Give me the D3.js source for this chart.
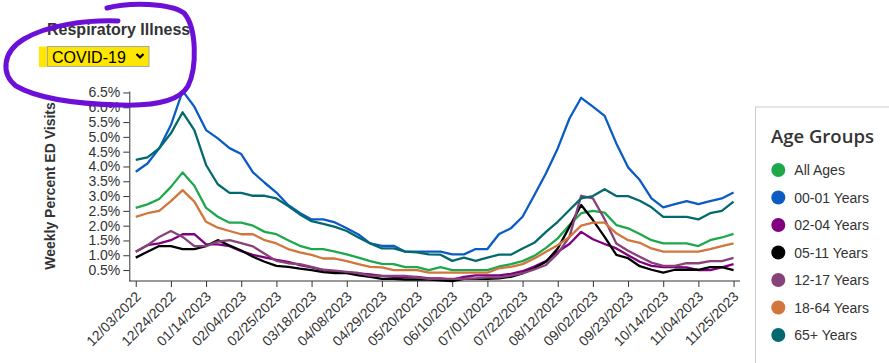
<!doctype html>
<html>
<head>
    <meta charset="utf-8">
    <title>Respiratory Illness - COVID-19</title>
    <script src="https://d3js.org/d3.v7.min.js"></script>
</head>
<body>

<svg class="linechart"></svg>

<script>
    var weeks = ["12/03/2022", "12/10/2022", "12/17/2022", "12/24/2022", "12/31/2022",
        "01/07/2023", "01/14/2023", "01/21/2023", "01/28/2023", "02/04/2023", "02/11/2023",
        "02/18/2023", "02/25/2023", "03/04/2023", "03/11/2023", "03/18/2023", "03/25/2023",
        "04/01/2023", "04/08/2023", "04/15/2023", "04/22/2023", "04/29/2023", "05/06/2023",
        "05/13/2023", "05/20/2023", "05/27/2023", "06/03/2023", "06/10/2023", "06/17/2023",
        "06/24/2023", "07/01/2023", "07/08/2023", "07/15/2023", "07/22/2023", "07/29/2023",
        "08/05/2023", "08/12/2023", "08/19/2023", "08/26/2023", "09/02/2023", "09/09/2023",
        "09/16/2023", "09/23/2023", "09/30/2023", "10/07/2023", "10/14/2023", "10/21/2023",
        "10/28/2023", "11/04/2023", "11/11/2023", "11/18/2023", "11/25/2023"];

    var groupNames = ["All Ages", "00-01 Years", "02-04 Years", "05-11 Years",
        "12-17 Years", "18-64 Years", "65+ Years"];

    var groupColors = ["#1ea84c", "#0a5cc4", "#800080", "#000000",
        "#87427a", "#d1763c", "#04696f"];

    // weekly percent of ED visits, one array per age group
    var allAges = [2.60, 2.72, 2.90, 3.31, 3.80, 3.35, 2.60, 2.30, 2.10, 2.10, 2.00, 1.79, 1.71,
        1.51, 1.32, 1.21, 1.21, 1.12, 1.03, 0.92, 0.80, 0.71, 0.70, 0.60, 0.60, 0.50, 0.60,
        0.50, 0.50, 0.50, 0.50, 0.62, 0.70, 0.80, 0.98, 1.25, 1.57, 2.02, 2.42, 2.50, 2.44,
        2.02, 1.91, 1.72, 1.51, 1.40, 1.40, 1.40, 1.31, 1.51, 1.60, 1.72];
    var age0001 = [3.82, 4.10, 4.61, 5.40, 6.55, 6.02, 5.23, 4.95, 4.62, 4.42, 3.80, 3.45, 3.12,
        2.70, 2.43, 2.21, 2.21, 2.11, 1.91, 1.70, 1.40, 1.32, 1.32, 1.12, 1.12, 1.12, 1.12,
        1.03, 1.03, 1.21, 1.21, 1.72, 1.91, 2.30, 3.03, 3.77, 4.61, 5.62, 6.32, 6.02, 5.71,
        4.78, 3.97, 3.54, 2.92, 2.62, 2.73, 2.83, 2.73, 2.83, 2.92, 3.12];
    var age0204 = [1.12, 1.34, 1.40, 1.51, 1.71, 1.71, 1.37, 1.37, 1.31, 1.14, 1.01, 0.93, 0.84,
        0.78, 0.67, 0.59, 0.50, 0.44, 0.41, 0.39, 0.35, 0.30, 0.27, 0.27, 0.27, 0.22, 0.22,
        0.18, 0.27, 0.32, 0.32, 0.32, 0.37, 0.46, 0.62, 0.80, 1.12, 1.38, 1.79, 1.54, 1.38,
        1.23, 1.00, 0.78, 0.64, 0.60, 0.60, 0.59, 0.50, 0.50, 0.59, 0.70];
    var age0511 = [0.92, 1.12, 1.31, 1.31, 1.21, 1.21, 1.31, 1.51, 1.33, 1.16, 0.95, 0.78, 0.64,
        0.61, 0.55, 0.50, 0.43, 0.40, 0.40, 0.32, 0.27, 0.20, 0.20, 0.18, 0.18, 0.18, 0.15,
        0.13, 0.20, 0.20, 0.20, 0.22, 0.27, 0.39, 0.56, 0.78, 1.23, 1.96, 2.70, 2.19, 1.62,
        1.01, 0.90, 0.63, 0.51, 0.41, 0.51, 0.51, 0.51, 0.60, 0.60, 0.50];
    var age1217 = [1.12, 1.34, 1.62, 1.82, 1.62, 1.31, 1.31, 1.46, 1.51, 1.41, 1.30, 1.05, 0.81,
        0.73, 0.70, 0.61, 0.51, 0.48, 0.44, 0.40, 0.31, 0.30, 0.30, 0.30, 0.25, 0.20, 0.20,
        0.20, 0.20, 0.22, 0.25, 0.25, 0.31, 0.39, 0.52, 0.67, 1.06, 1.62, 3.01, 2.92, 2.22,
        1.40, 1.15, 0.95, 0.75, 0.64, 0.64, 0.73, 0.73, 0.80, 0.80, 0.91];
    var age1864 = [2.30, 2.42, 2.50, 2.83, 3.20, 2.81, 2.13, 1.93, 1.82, 1.71, 1.71, 1.51, 1.40,
        1.21, 1.10, 1.01, 0.89, 0.89, 0.80, 0.70, 0.61, 0.59, 0.50, 0.50, 0.50, 0.41, 0.41,
        0.41, 0.41, 0.41, 0.41, 0.56, 0.61, 0.70, 0.89, 1.12, 1.34, 1.62, 2.00, 2.10, 2.10,
        1.74, 1.51, 1.42, 1.23, 1.12, 1.12, 1.12, 1.12, 1.21, 1.31, 1.40];
    var age65 = [4.22, 4.31, 4.61, 5.12, 5.83, 5.23, 4.05, 3.40, 3.11, 3.11, 3.01, 3.01, 2.92,
        2.66, 2.38, 2.15, 2.06, 1.96, 1.82, 1.60, 1.40, 1.23, 1.23, 1.12, 1.10, 1.03, 1.02,
        0.81, 0.92, 0.81, 0.92, 1.02, 1.02, 1.23, 1.42, 1.79, 2.13, 2.53, 2.92, 3.00, 3.23,
        3.00, 3.00, 2.84, 2.62, 2.30, 2.30, 2.30, 2.21, 2.42, 2.50, 2.81];

    var yTicks = [0.5, 1.0, 1.5, 2.0, 2.5, 3.0, 3.5, 4.0, 4.5, 5.0, 5.5, 6.0, 6.5];

    var series = [allAges, age0001, age0204, age0511, age1217, age1864, age65]
        .map((values, i) => ({name: groupNames[i], color: groupColors[i], values: values}));

    var width = 889,
        height = 363,
        margin = {top: 91, right: 149, bottom: 82, left: 129.3};

    var font = '"Liberation Sans", Arial, sans-serif';

    var svg = d3.select(".linechart")
        .attr("width", width)
        .attr("height", height)
        .style("display", "block")
        .style("font-family", font);

    d3.select("body").style("margin", 0).style("background", "#fff");

    var x = d3.scalePoint()
        .domain(weeks)
        .range([margin.left, width - margin.right])
        .padding(0.55);

    var y = d3.scaleLinear()
        .domain(d3.extent(series.flatMap(s => s.values)))
        .range([height - margin.bottom, margin.top]);

    // header + fake dropdown
    svg.append("text")
        .attr("x", 47)
        .attr("y", 35)
        .style("font-size", "16px")
        .style("font-weight", "bold")
        .attr("fill", "#333")
        .text("Respiratory Illness");

    svg.append("rect")
        .attr("x", 39).attr("y", 46.5)
        .attr("width", 110).attr("height", 20.5)
        .attr("fill", "#ffe600");
    svg.append("rect")
        .attr("x", 47.5).attr("y", 46.5)
        .attr("width", 101.5).attr("height", 20)
        .attr("fill", "none")
        .attr("stroke", "#a8a8a8");
    svg.append("text")
        .attr("x", 52)
        .attr("y", 62.5)
        .style("font-size", "16px")
        .attr("fill", "#000")
        .text("COVID-19");
    svg.append("path")
        .attr("d", "M136.5,54 L140,57.5 L143.5,54")
        .attr("fill", "none")
        .attr("stroke", "#000")
        .attr("stroke-width", 2.2);

    // axes
    var yAxis = svg.append("g")
        .attr("transform", `translate(${margin.left},0)`)
        .call(d3.axisLeft(y).tickValues(yTicks)
            .tickFormat(d => d3.format(".1f")(d) + "%").tickSizeOuter(0));
    yAxis.selectAll("text")
        .style("font-size", "14px")
        .style("font-family", font)
        .attr("fill", "#333");
    yAxis.selectAll("line, path").attr("stroke", "#333");

    var xAxis = svg.append("g")
        .attr("transform", `translate(0,${height - margin.bottom})`)
        .call(d3.axisBottom(x)
            .tickValues(weeks.filter((d, i) => i % 3 == 0)).tickSizeOuter(0));
    xAxis.select(".domain").attr("d", `M${margin.left},0H${width - margin.right}`);
    xAxis.selectAll("line, path").attr("stroke", "#333");
    xAxis.selectAll("text")
        .attr("x", 0).attr("y", 0)
        .attr("dy", "0.35em")
        .attr("transform", "translate(2,13) rotate(-45)")
        .style("text-anchor", "end")
        .style("font-size", "14px")
        .style("font-family", font)
        .attr("fill", "#333");

    svg.append("text")
        .attr("transform", `translate(55,${(margin.top + height - margin.bottom) / 2}) rotate(-90)`)
        .style("text-anchor", "middle")
        .style("font-size", "14px")
        .style("font-weight", "bold")
        .attr("fill", "#333")
        .text("Weekly Percent ED Visits");

    // lines
    var line = d3.line()
        .x((d, i) => x(weeks[i]))
        .y(d => y(d));

    svg.append("g")
        .selectAll("path")
        .data(series)
        .enter()
        .append("path")
        .attr("d", d => line(d.values))
        .attr("fill", "none")
        .attr("stroke", d => d.color)
        .attr("stroke-width", 2.3)
        .attr("stroke-linejoin", "round");

    // legend
    var legend = svg.append("g");
    legend.append("rect")
        .attr("x", 755.5).attr("y", 107)
        .attr("width", 200).attr("height", 300)
        .attr("fill", "#fff")
        .attr("stroke", "#cccccc");
    legend.append("text")
        .attr("x", 771)
        .attr("y", 143)
        .style("font-family", '"Open Sans", sans-serif')
        .style("font-size", "18.5px")
        .style("font-weight", 600)
        .attr("fill", "#333")
        .text("Age Groups");

    var item = legend.selectAll(".item")
        .data(series)
        .enter()
        .append("g")
        .attr("class", "item")
        .attr("transform", (d, i) => `translate(778.3,${170 + i * 27.5})`);
    item.append("circle")
        .attr("r", 7)
        .attr("fill", d => d.color);
    item.append("text")
        .attr("x", 16)
        .attr("dy", "0.36em")
        .style("font-size", "14px")
        .attr("fill", "#333")
        .text(d => d.name);

    // hand-drawn marker around the selector
    svg.append("path")
        .attr("d", "M107,8 C130,2 170,3 184,13 C197,28 197,68 188,86 C179,102 150,106 120,105 " +
            "C80,104 40,100 16,86 C1,74 2,52 24,39 C48,25 85,20 118,21")
        .attr("fill", "none")
        .attr("stroke", "#6c10d8")
        .attr("stroke-width", 5)
        .attr("stroke-linecap", "round");
</script>

</body>
</html>
